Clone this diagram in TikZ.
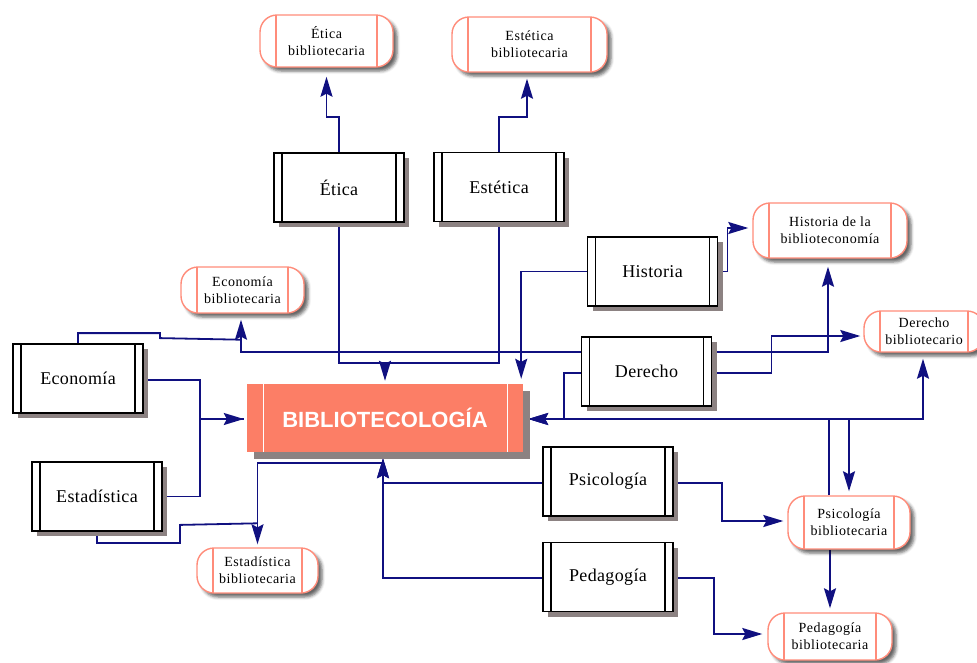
\documentclass[tikz,border=0pt]{standalone}
\usepackage{fontspec}
\setmainfont{Liberation Serif}
\setsansfont{Liberation Sans}
\newfontfamily\termserif{Liberation Serif}[LetterSpace=4]
\newfontfamily\subjserif{Liberation Serif}[LetterSpace=2]
\usetikzlibrary{arrows.meta,shadows,shadows.blur}

\definecolor{connblue}{RGB}{16,16,128}
\definecolor{salmonfill}{RGB}{252,126,102}
\definecolor{termline}{RGB}{255,140,122}
\definecolor{shadowgray}{RGB}{140,130,130}

\pgfdeclarelayer{bg}
\pgfsetlayers{bg,main}

\tikzset{
  conn/.style={draw=connblue, line width=1.8pt},
  arr/.style={conn, -{Stealth[length=20pt,width=12pt,inset=3pt]}},
  subj/.style={draw=black, line width=1.8pt, fill=white,
    minimum width=130pt, minimum height=69pt, inner sep=0pt,
    font=\subjserif\fontsize{18}{20}\selectfont,
    drop shadow={shadow xshift=5pt, shadow yshift=-5pt, fill=shadowgray, opacity=1},
    path picture={
      \draw[line width=1.4pt]
        ([xshift=8pt]path picture bounding box.north west) -- ([xshift=8pt]path picture bounding box.south west)
        ([xshift=-8pt]path picture bounding box.north east) -- ([xshift=-8pt]path picture bounding box.south east);
    }},
  term/.style 2 args={draw=termline, line width=1.4pt, fill=white,
    rounded corners=17pt, minimum width=#1, minimum height=#2, inner sep=0pt,
    align=center, font=\termserif\fontsize{14}{17}\selectfont,
    blur shadow={shadow xshift=4pt, shadow yshift=-4pt, shadow blur radius=3pt, shadow opacity=60},
    path picture={
      \draw[termline, line width=1.4pt, sharp corners]
        ([xshift=16pt]path picture bounding box.north west) -- ([xshift=16pt]path picture bounding box.south west)
        ([xshift=-16pt]path picture bounding box.north east) -- ([xshift=-16pt]path picture bounding box.south east);
    }},
  centralbox/.style={fill=salmonfill, minimum width=276pt, minimum height=68pt, inner sep=0pt,
    text=white, font=\sffamily\bfseries\fontsize{22}{24}\selectfont,
    drop shadow={shadow xshift=7pt, shadow yshift=-7pt, fill=shadowgray, opacity=1},
    path picture={
      \draw[white, line width=1pt]
        ([xshift=16pt]path picture bounding box.north west) -- ([xshift=16pt]path picture bounding box.south west)
        ([xshift=-16pt]path picture bounding box.north east) -- ([xshift=-16pt]path picture bounding box.south east);
    }},
}

\begin{document}
\begin{tikzpicture}[x=1pt, y=-1pt]
\useasboundingbox (0,0) rectangle (977,662);

% subject boxes
\node[subj] (etica) at (339,187.5) {Ética};
\node[subj] (estetica) at (499,187) {Estética};
\node[subj] (historia) at (652.5,271.5) {Historia};
\node[subj] (derecho) at (646.5,371.5) {Derecho};
\node[subj] (economia) at (78,378.5) {Economía};
\node[subj] (estadistica) at (97,496.5) {Estadística};
\node[subj] (psicologia) at (608,481.5) {Psicología};
\node[subj] (pedagogia) at (608,577) {Pedagogía};

% central discipline
\node[centralbox] (biblio) at (385,418) {BIBLIOTECOLOGÍA};

% library-specific branches
\node[term={133pt}{52pt}] (eticaB) at (326.5,41) {Ética\\bibliotecaria};
\node[term={155pt}{55pt}] (esteticaB) at (529.5,44.5) {Estética\\bibliotecaria};
\node[term={123pt}{46pt}] (economiaB) at (242.5,290) {Economía\\bibliotecaria};
\node[term={154pt}{55pt}] (historiaB) at (830,230.5) {Historia de la\\biblioteconomía};
\node[term={120pt}{41pt}] (derechoB) at (924,331.5) {Derecho\\bibliotecario};
\node[term={122pt}{53pt}] (psicologiaB) at (849,522.5) {Psicología\\bibliotecaria};
\node[term={124pt}{47pt}] (pedagogiaB) at (830,636.5) {Pedagogía\\bibliotecaria};
\node[term={121pt}{45pt}] (estadisticaB) at (257.5,570.5) {Estadística\\bibliotecaria};

\begin{pgfonlayer}{bg}
% Ética and Estética
\draw[arr, shorten >=9pt] (etica.north) -- ++(0,-35) -| (eticaB.south);
\draw[arr, shorten >=6pt] (estetica.north) -- ++(0,-35) -| ([xshift=-2.5pt]esteticaB.south);
\draw[conn] (etica.south) -- ++(0,140) coordinate (topbus) -| (estetica.south);
\draw[arr, shorten >=3pt] (topbus -| biblio.north) -- (biblio.north);

% Historia
\draw[arr, shorten >=5pt] (historia.west) -| ([xshift=-2pt]biblio.north east);
\draw[arr, shorten >=4pt] (historia.east) -- ++(9,0) |- ([yshift=2.5pt]historiaB.west);

% Derecho
\draw[arr, shorten >=8pt] ([yshift=19.5pt]derecho.east) -| ([xshift=-2pt]historiaB.south);
\draw[arr, shorten >=3pt] ([yshift=-1.5pt]derecho.east) -- ++(59,0) |- ([yshift=-4.5pt]derechoB.west);
\draw[arr, shorten >=6pt] ([yshift=19.5pt]derecho.west) -| ([xshift=-1.5pt]economiaB.south);
\draw[arr, shorten >=5pt] ([yshift=-1.5pt]derecho.west) -- ++(-17,0) |- ([yshift=-1pt]biblio.east);

% Economía and Estadística
\draw[conn] (economia.north) -- ++(0,-10) -- ++(82,0) -- ++(0,5) -- ([xshift=-1.5pt,yshift=-26pt]economiaB.south);
\draw[arr, shorten >=3pt] ([yshift=-1.5pt]economia.east) -- ++(56,0) |- ([yshift=-1pt]biblio.west);
\draw[conn, shorten >=3pt] (estadistica.east) -- ++(37,0) |- ([yshift=-1pt]biblio.west);
\draw[conn] (estadistica.south) -- ++(0,11) -- ++(83,0) -- ++(0,-18) -- ([yshift=24pt]estadisticaB.north);
\draw[arr, shorten >=3pt] ([xshift=-2pt,yshift=-11pt]biblio.south) -| (estadisticaB.north);

% Psicología and Pedagogía
\draw[arr, shorten >=6pt] ([yshift=-1.5pt]psicologia.west) -| ([xshift=-2pt]biblio.south);
\draw[arr, shorten >=6pt] ([yshift=-1pt]pedagogia.west) -| ([xshift=-2pt]biblio.south);
\draw[arr, shorten >=4pt] ([yshift=-1.5pt]psicologia.east) -- ++(48,0) |- ([yshift=1.5pt]psicologiaB.west);
\draw[arr, shorten >=5pt] ([yshift=-1pt]pedagogia.east) -- ++(40,0) |- ([yshift=2.5pt]pedagogiaB.west);
\draw[arr, shorten >=4pt] (pedagogiaB.north |- psicologiaB.south) -- (pedagogiaB.north);

% right-hand bus
\draw[arr, shorten >=5pt] ([xshift=-20pt]psicologiaB.north) |- ([yshift=-1pt]biblio.east);
\draw[arr, shorten >=6pt] ([xshift=5pt,yshift=-1pt]biblio.east) -| ([xshift=-1pt]derechoB.south);
\draw[arr, shorten >=4pt] (psicologiaB.north |- biblio.east) -- (psicologiaB.north);
\end{pgfonlayer}
\end{tikzpicture}
\end{document}
